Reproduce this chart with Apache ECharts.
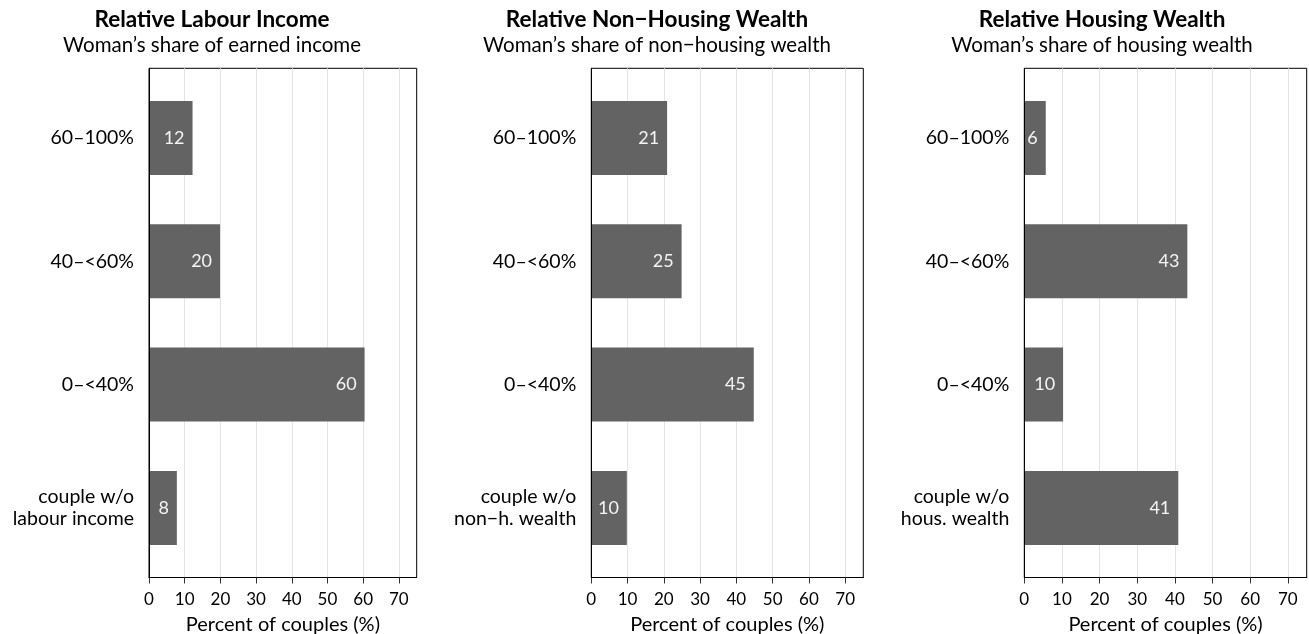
<!DOCTYPE html>
<html><head><meta charset="utf-8">
<script src="https://cdn.jsdelivr.net/npm/echarts@6/dist/echarts.min.js"></script>
<style>html,body{margin:0;padding:0;background:#fff}#c{width:1309px;height:634px}</style>
</head><body><div id="c"></div>
<script>
// Category labels (bottom to top)
const catsIncome = ['couple w/o\nlabour income', '0–<40%', '40–<60%', '60–100%'];
const catsNonHousing = ['couple w/o\nnon−h. wealth', '0–<40%', '40–<60%', '60–100%'];
const catsHousing = ['couple w/o\nhous. wealth', '0–<40%', '40–<60%', '60–100%'];
// Percent of couples (same order)
const valsIncome = [7.8, 60.4, 19.9, 12.2];
const valsNonHousing = [9.8, 44.8, 24.9, 20.9];
const valsHousing = [40.9, 10.3, 43.3, 5.7];
const xTicks = [0, 10, 20, 30, 40, 50, 60, 70];
const titles = ['Relative Labour Income', 'Relative Non−Housing Wealth', 'Relative Housing Wealth'];
const subtitles = ["Woman’s share of earned income", "Woman’s share of non−housing wealth", "Woman’s share of housing wealth"];
const xName = 'Percent of couples (%)';

const FONT = 'Lato';
const W = 1309;
const panels = [
  {cats: catsIncome, vals: valsIncome, L: 149, R: 416.7, tc: 212},
  {cats: catsNonHousing, vals: valsNonHousing, L: 591.3, R: 863.3, tc: 657},
  {cats: catsHousing, vals: valsHousing, L: 1024.3, R: 1306.7, tc: 1102}
];
const frameTop = 68.3, frameBottom = 634 - 577.5;
const barTop = 76.35, barBottom = 634 - 569.55;

const grid = [], xAxis = [], yAxis = [], series = [], title = [];
panels.forEach((p, i) => {
  grid.push({left: p.L, right: W - p.R, top: frameTop, bottom: frameBottom, outerBoundsMode: 'none', containLabel: false,
    show: true, borderColor: '#000', borderWidth: 1, backgroundColor: 'transparent'});
  grid.push({left: p.L, right: W - p.R, top: barTop, bottom: barBottom, outerBoundsMode: 'none', containLabel: false});
  const fg = 2 * i, bg = 2 * i + 1;
  xAxis.push({
    gridIndex: fg, type: 'value', min: 0, max: 75, interval: 10,
    axisLine: {show: true, lineStyle: {color: '#000', width: 1}},
    axisTick: {show: true, length: 6, lineStyle: {color: '#333'}, customValues: xTicks},
    axisLabel: {fontFamily: FONT, fontSize: 17, color: '#000', margin: 22, verticalAlign: 'middle', customValues: xTicks},
    splitLine: {show: true, lineStyle: {color: '#e3e3e3', width: 1}},
    name: xName, nameLocation: 'middle', nameGap: 37,
    nameTextStyle: {fontFamily: FONT, fontSize: 20, color: '#000'}
  });
  xAxis.push({gridIndex: bg, type: 'value', min: 0, max: 75, show: false});
  yAxis.push({gridIndex: fg, type: 'value', min: 0, max: 1, z: 5,
    axisLine: {show: true, lineStyle: {color: '#000', width: 1}},
    axisTick: {show: false}, axisLabel: {show: false}, splitLine: {show: false}});
  yAxis.push({gridIndex: bg, type: 'category', data: p.cats,
    axisLine: {show: false}, axisTick: {show: false}, splitLine: {show: false},
    axisLabel: {fontFamily: FONT, fontSize: 19.5, color: '#000', margin: 15, lineHeight: 22, align: 'right'}});
  series.push({
    type: 'bar', xAxisIndex: bg, yAxisIndex: bg, data: p.vals, barWidth: '60%',
    itemStyle: {color: '#636363'},
    label: {show: true, position: 'insideRight', distance: 8, color: '#f4f4f4', fontFamily: FONT, fontSize: 18,
      formatter: d => Math.round(d.value)}
  });
  title.push({
    text: titles[i], subtext: subtitles[i], left: p.tc, top: 8, textAlign: 'center', padding: 0, itemGap: 4,
    textStyle: {fontFamily: FONT, fontSize: 22.5, fontWeight: 'bold', color: '#000'},
    subtextStyle: {fontFamily: FONT, fontSize: 20.5, color: '#000'}
  });
});

const chart = echarts.init(document.getElementById('c'), null, {renderer: 'canvas'});
chart.setOption({animation: false, backgroundColor: '#fff', title, grid, xAxis, yAxis, series});
</script></body></html>
